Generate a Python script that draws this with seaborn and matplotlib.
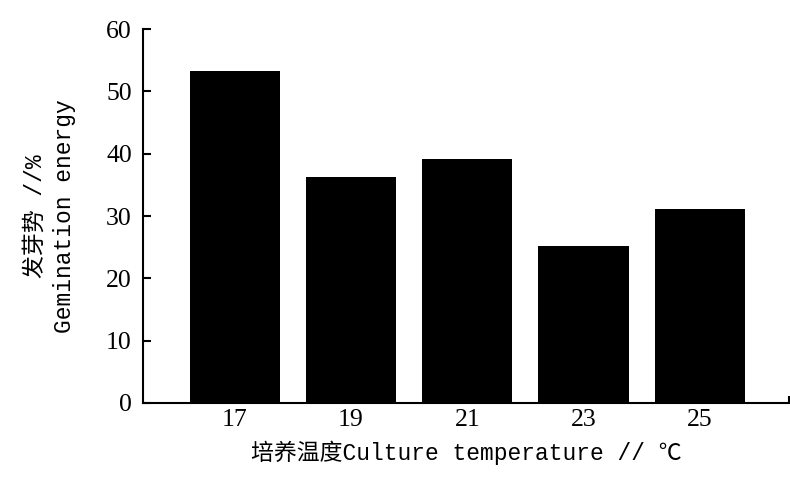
import matplotlib
matplotlib.use("Agg")
import matplotlib.pyplot as plt
import seaborn as sns
import pandas as pd

# Germination energy at each culture temperature
temperatures = ["17", "19", "21", "23", "25"]
germination_energy = [53.3, 36.3, 39.2, 25.2, 31.2]
y_ticks = [0, 10, 20, 30, 40, 50, 60]

df = pd.DataFrame({"temp": temperatures, "energy": germination_energy})

sns.set_theme(style="ticks")
plt.rcParams["font.family"] = ["Liberation Serif", "Noto Sans CJK SC"]

fig = plt.figure(figsize=(7.9, 4.79), dpi=100)
ax = fig.add_axes([0.181, 0.1587, 0.818, 0.7806])

sns.barplot(data=df, x="temp", y="energy", color="black", width=0.775,
            saturation=1, edgecolor="none", ax=ax)

ax.set_xlim(-0.79, 4.77)
ax.set_ylim(0, 60)
ax.set_yticks(y_ticks)
ax.set_xticks([4.77], minor=True)

for s in ["top", "right"]:
    ax.spines[s].set_visible(False)
for s in ["left", "bottom"]:
    ax.spines[s].set_linewidth(1.5)
    ax.spines[s].set_color("black")

ax.tick_params(axis="y", direction="in", length=6, width=1.5, pad=8,
               labelsize=18.5, colors="black")
ax.tick_params(axis="x", which="major", direction="in", length=0, pad=4,
               labelsize=18.5, colors="black")
ax.tick_params(axis="x", which="minor", direction="in", length=5, width=1.5,
               colors="black")

label_font = ["Liberation Mono", "Noto Sans CJK SC"]
ax.set_xlabel("培养温度Culture temperature // ℃", fontsize=16.5,
              family=label_font, labelpad=7, color="black")
ax.set_ylabel("发芽势 //%\nGemination energy", fontsize=16.5,
              family=label_font, labelpad=22, linespacing=1.35, color="black")

fig.savefig("out.png", dpi=100)
